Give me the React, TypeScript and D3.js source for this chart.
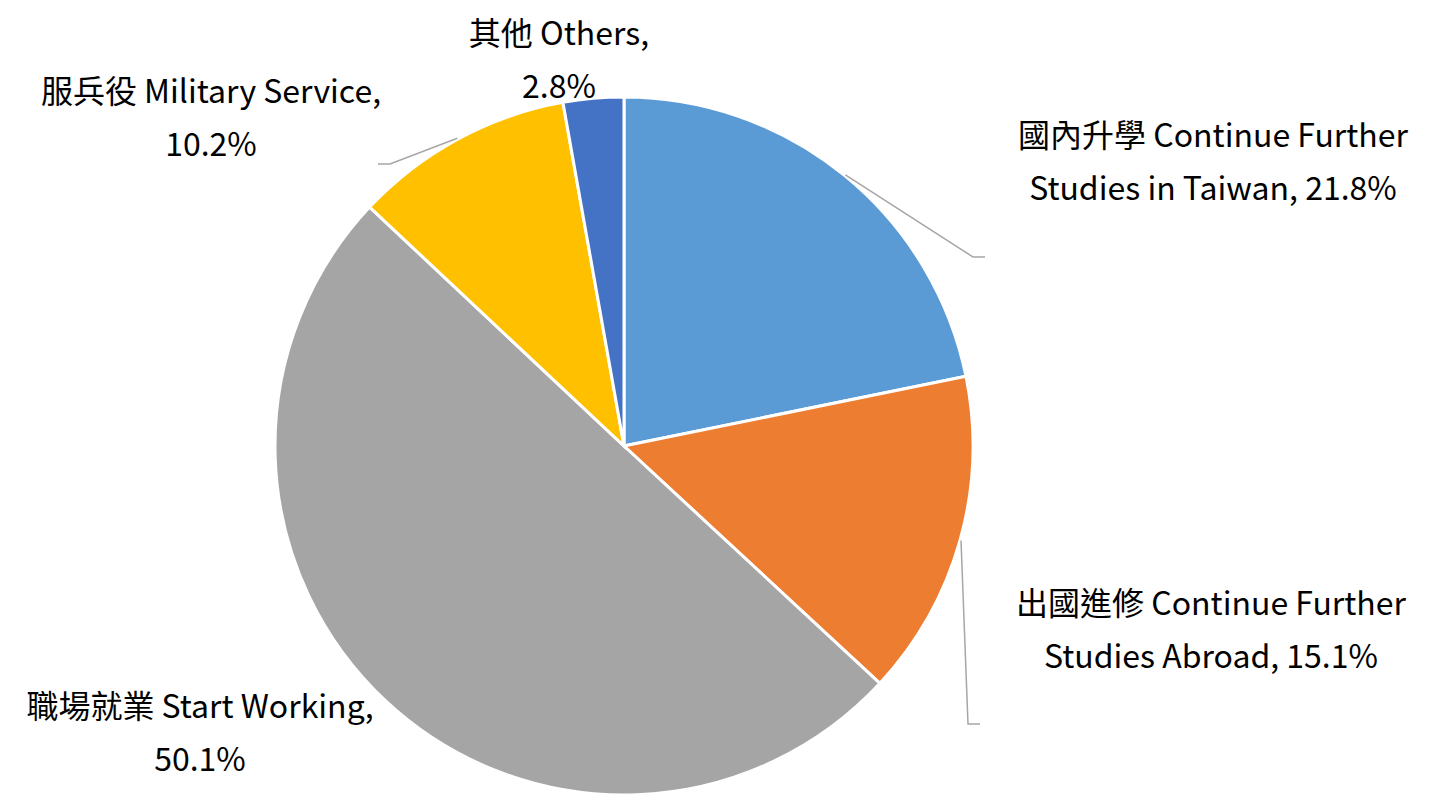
import React from 'react';
import * as d3 from 'd3';

const categories = [
  '國內升學 Continue Further Studies in Taiwan',
  '出國進修 Continue Further Studies Abroad',
  '職場就業 Start Working',
  '服兵役 Military Service',
  '其他 Others',
];
const values = [21.8, 15.1, 50.1, 10.2, 2.8];
const colors = ['#5B9BD5', '#ED7D31', '#A5A5A5', '#FFC000', '#4472C4'];
// label text lines
const labelLines = [
  ['國內升學 Continue Further', 'Studies in Taiwan, 21.8%'],
  ['出國進修 Continue Further', 'Studies Abroad, 15.1%'],
  ['職場就業 Start Working,', '50.1%'],
  ['服兵役 Military Service,', '10.2%'],
  ['其他 Others,', '2.8%'],
];

const width = 1431;
const height = 794;
const cx = 624;
const cy = 446;
const radius = 349;

// label centre + first baseline, and elbow of leader line (null = no leader)
const labelPos = [
  { x: 1213, y: 147, elbow: [973, 257], end: 985 },
  { x: 1211, y: 615, elbow: [968, 724], end: 980 },
  { x: 200, y: 718, elbow: null, end: 0 },
  { x: 211, y: 103, elbow: [390, 164], end: 378 },
  { x: 559, y: 45, elbow: null, end: 0 },
];

const App = () => {
  const pie = d3.pie<number>().sort(null).value((d) => d);
  const arcs = pie(values);
  const arc = d3.arc<d3.PieArcDatum<number>>().innerRadius(0).outerRadius(radius);

  return (
    <svg
      width={width}
      height={height}
      style={{ position: 'absolute', left: 0, top: 0, background: '#fff' }}
      fontFamily="'Noto Sans CJK TC', 'Noto Sans', sans-serif"
    >
      <g transform={`translate(${cx},${cy})`}>
        {arcs.map((a, i) => (
          <path key={i} d={arc(a) || ''} fill={colors[i]} stroke="#fff" strokeWidth={3} />
        ))}
      </g>
      {arcs.map((a, i) => {
        const p = labelPos[i];
        if (!p.elbow) return null;
        const mid = (a.startAngle + a.endAngle) / 2;
        const sx = cx + Math.sin(mid) * (radius + 1);
        const sy = cy - Math.cos(mid) * (radius + 1);
        const pts: [number, number][] = [[sx, sy], [p.elbow[0], p.elbow[1]], [p.end, p.elbow[1]]];
        return (
          <path key={i} d={d3.line()(pts) || ''} fill="none" stroke="#A6A6A6" strokeWidth={1.5} />
        );
      })}
      {labelLines.map((lines, i) => (
        <text key={i} x={labelPos[i].x} y={labelPos[i].y} textAnchor="middle" fontSize={32} fill="#000">
          {lines.map((t, j) => (
            <tspan key={j} x={labelPos[i].x} dy={j === 0 ? 0 : 53}>
              {t}
            </tspan>
          ))}
        </text>
      ))}
    </svg>
  );
};

export default App;
